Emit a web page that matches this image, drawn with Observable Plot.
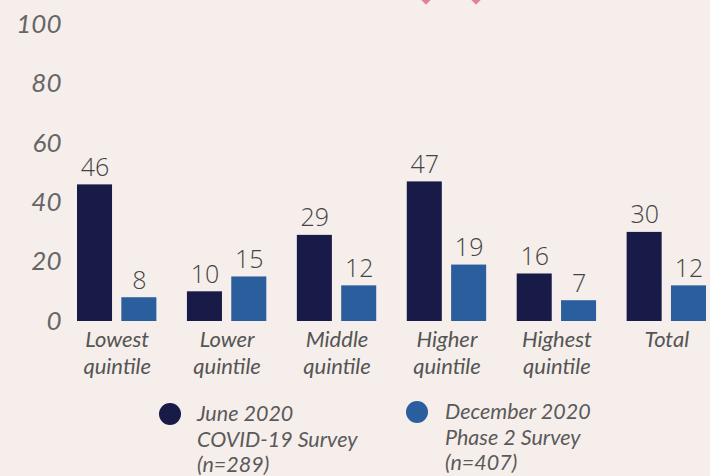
<!DOCTYPE html>
<html>
<head>
<meta charset="utf-8">
<script src="https://cdn.jsdelivr.net/npm/d3@7"></script>
<script src="https://cdn.jsdelivr.net/npm/@observablehq/plot@0.6"></script>
<style>
  html, body { margin: 0; padding: 0; background: #f6eeeb; }
  #wrap { position: relative; width: 710px; height: 476px; overflow: hidden; background: #f6eeeb; }
  #chart { position: absolute; left: 0; top: 0; }
  .pin { position: absolute; width: 8px; height: 8px; background: #e0829f; transform: rotate(45deg); top: -5px; }
  .legend-item { position: absolute; font-family: Lato, sans-serif; font-style: italic; font-size: 21.5px; line-height: 25.5px; color: #5a5a5a; white-space: nowrap; }
  .dot { position: absolute; width: 22px; height: 22px; border-radius: 50%; }
</style>
</head>
<body>
<div id="wrap">
  <div class="pin" style="left:422px"></div>
  <div class="pin" style="left:472px"></div>
  <div id="chart"></div>
  <div id="legend"></div>
</div>
<script>
const categories = ["Lowest quintile", "Lower quintile", "Middle quintile", "Higher quintile", "Highest quintile", "Total"];
const seriesNames = ["June 2020 COVID-19 Survey (n=289)", "December 2020 Phase 2 Survey (n=407)"];
const seriesLegendLines = [["June 2020", "COVID-19 Survey", "(n=289)"], ["December 2020", "Phase 2 Survey", "(n=407)"]];
const seriesColors = ["#181a48", "#2a5e9c"];
const june2020 = [46, 10, 29, 47, 16, 30];
const december2020 = [8, 15, 12, 19, 7, 12];
const yTicks = [0, 20, 40, 60, 80, 100];

const data = categories.flatMap((c, i) => [
  {category: c, series: seriesNames[0], value: june2020[i]},
  {category: c, series: seriesNames[1], value: december2020[i]}
]);

const chart = Plot.plot({
  width: 710,
  height: 390,
  marginTop: 24,
  marginBottom: 69,
  marginLeft: 77,
  marginRight: 4,
  style: {background: "transparent", fontFamily: "Lato, sans-serif", overflow: "visible"},
  fx: {domain: categories, paddingInner: 0.278, paddingOuter: 0, round: false, label: null},
  x: {domain: seriesNames, paddingInner: 0.21, paddingOuter: 0, round: false, axis: null},
  y: {domain: [0, 100]},
  color: {domain: seriesNames, range: seriesColors},
  marks: [
    Plot.barY(data, {fx: "category", x: "series", y: "value", fill: "series"}),
    Plot.text(data, {
      fx: "category", x: "series", y: "value", text: d => String(d.value),
      lineAnchor: "bottom", dy: -9, fontSize: 25, fontWeight: 300, fill: "#444444",
      fontFamily: "'Open Sans', sans-serif", style: "letter-spacing: 0.5px"
    }),
    Plot.axisY(yTicks, {
      anchor: "left", tickSize: 0, tickPadding: 16, label: null,
      fontSize: 26, fontStyle: "italic", fill: "#666666", fontFamily: "Lato, sans-serif"
    }),
    Plot.axisFx({
      anchor: "bottom", tickSize: 0, tickPadding: 7, label: null,
      tickFormat: d => d.replace(" ", "\n"), lineHeight: 1.2,
      fontSize: 22, fontStyle: "italic", fill: "#555555", fontFamily: "Lato, sans-serif"
    })
  ]
});
document.getElementById("chart").appendChild(chart);

// Legend
const legend = document.getElementById("legend");
const legendPos = [{dotX: 159, dotY: 403, textX: 197, textY: 401}, {dotX: 406, dotY: 401, textX: 445, textY: 399}];
seriesNames.forEach((s, i) => {
  const dot = document.createElement("div");
  dot.className = "dot";
  dot.style.left = legendPos[i].dotX + "px";
  dot.style.top = legendPos[i].dotY + "px";
  dot.style.background = seriesColors[i];
  legend.appendChild(dot);
  const item = document.createElement("div");
  item.className = "legend-item";
  item.style.left = legendPos[i].textX + "px";
  item.style.top = legendPos[i].textY + "px";
  item.innerHTML = seriesLegendLines[i].join("<br>");
  legend.appendChild(item);
});
</script>
</body>
</html>
